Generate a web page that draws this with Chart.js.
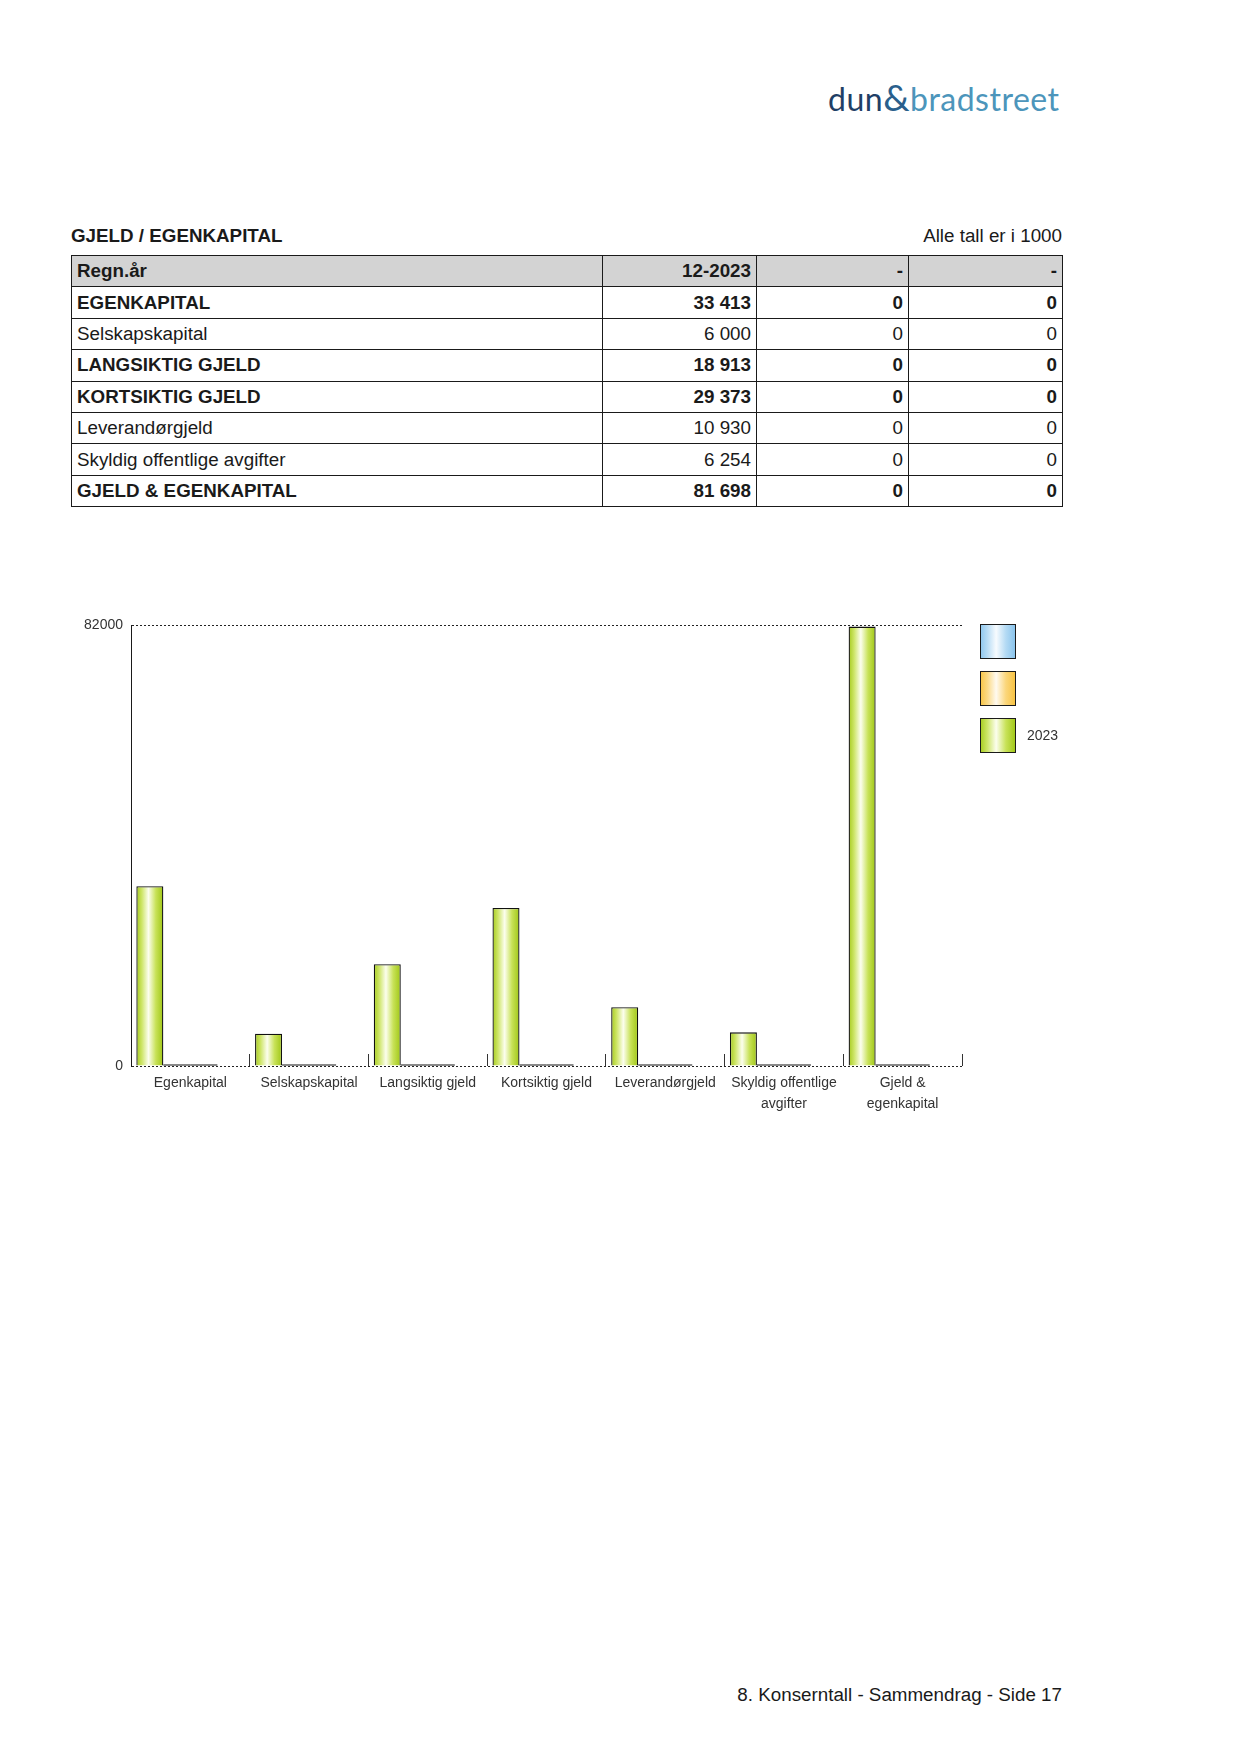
<!DOCTYPE html>
<html lang="no">
<head>
<meta charset="utf-8">
<title>Gjeld / Egenkapital</title>
<script src="https://cdn.jsdelivr.net/npm/chart.js@4.4.0/dist/chart.umd.min.js"></script>
<style>
  html, body { margin: 0; padding: 0; background: #fff; }
  body { width: 1241px; height: 1754px; position: relative; font-family: "Liberation Sans", Arial, sans-serif; color: #1a1a1a; }
  .logo { position: absolute; left: 828px; top: 77px; font-family: Lato, "Open Sans", sans-serif; font-size: 32px; letter-spacing: 0.5px; line-height: 40px; white-space: nowrap; }
  .logo .dun { color: #1f3f66; }
  .logo .amp { color: #2a5f8c; font-size: 37px; }
  .logo .brad { color: #4c95bb; }
  .title { position: absolute; left: 71px; top: 225px; font-size: 18.8px; font-weight: bold; }
  .unit { position: absolute; right: 179px; top: 225px; font-size: 18.8px; }
  table { position: absolute; left: 71px; top: 255px; border-collapse: collapse; font-size: 18.8px; }
  td { border: 1px solid #1a1a1a; height: 31.4px; padding: 0 5px; box-sizing: border-box; white-space: nowrap; }
  td.num { text-align: right; }
  tr.head td { background: #d3d3d3; font-weight: bold; }
  tr.bold td { font-weight: bold; }
  .chart-box { position: absolute; left: 60px; top: 590px; width: 1060px; height: 540px; }
  .footer { position: absolute; right: 179px; top: 1684px; font-size: 18.8px; }
</style>
</head>
<body>
<div class="logo"><span class="dun">dun</span><span class="amp">&amp;</span><span class="brad">bradstreet</span></div>
<div class="title">GJELD / EGENKAPITAL</div>
<div class="unit">Alle tall er i 1000</div>
<table id="tbl"></table>
<div class="chart-box"><canvas id="balanceChart"></canvas></div>
<div class="footer">8. Konserntall - Sammendrag - Side 17</div>

<script>
// table contents
const tableHeader = ['Regn.år', '12-2023', '-', '-'];
const tableRows = ['EGENKAPITAL', 'Selskapskapital', 'LANGSIKTIG GJELD', 'KORTSIKTIG GJELD',
  'Leverandørgjeld', 'Skyldig offentlige avgifter', 'GJELD & EGENKAPITAL'];
const tableBold = [true, false, true, true, false, false, true];
const tableYear = ['33 413', '6 000', '18 913', '29 373', '10 930', '6 254', '81 698'];
const tableCol2 = ['0', '0', '0', '0', '0', '0', '0'];
const tableCol3 = ['0', '0', '0', '0', '0', '0', '0'];

// chart data
const categories = ['Egenkapital', 'Selskapskapital', 'Langsiktig gjeld', 'Kortsiktig gjeld',
  'Leverandørgjeld', ['Skyldig offentlige', 'avgifter'], ['Gjeld &', 'egenkapital']];
const values2023 = [33413, 6000, 18913, 29373, 10930, 6254, 81698];
const valuesOrange = [0, 0, 0, 0, 0, 0, 0];
const valuesBlue = [0, 0, 0, 0, 0, 0, 0];
const yTicks = [0, 82000];

const colWidths = [531, 154, 152, 154];

function buildTable() {
  const tbl = document.getElementById('tbl');
  let html = '<tr class="head">' + tableHeader.map((h, i) =>
    `<td class="${i ? 'num' : ''}" style="width:${colWidths[i]}px">${h}</td>`).join('') + '</tr>';
  tableRows.forEach((name, i) => {
    html += `<tr class="${tableBold[i] ? 'bold' : ''}"><td>${name.replace('&', '&amp;')}</td>` +
      `<td class="num">${tableYear[i]}</td><td class="num">${tableCol2[i]}</td><td class="num">${tableCol3[i]}</td></tr>`;
  });
  tbl.innerHTML = html;
}
buildTable();

const greenStops = ['#a6cb1c', '#cde566', '#fcfeee', '#c8e258', '#9fc614'];
const orangeStops = ['#f8c442', '#fbd983', '#fffaf0', '#fbd67a', '#f7c13d'];
const blueStops = ['#8cc6ee', '#b7dcf5', '#f7fbfe', '#b3daf4', '#86c2ec'];
const CAT_PCT = 0.91;
const FONT = '"Liberation Sans", Arial, sans-serif';

function makeGradient(ctx, x0, x1, stops) {
  const g = ctx.createLinearGradient(x0, 0, x1, 0);
  const pos = [0, 0.2, 0.45, 0.72, 1];
  stops.forEach((c, i) => g.addColorStop(pos[i], c));
  return g;
}

function barGradient(context) {
  const chart = context.chart;
  const x = chart.scales.x;
  if (!chart.chartArea || !x || context.dataIndex === undefined) return greenStops[0];
  const catW = x.width / categories.length;
  const groupW = catW * CAT_PCT;
  const barW = groupW / chart.data.datasets.length;
  const left = x.getPixelForValue(context.dataIndex) - groupW / 2 + context.datasetIndex * barW;
  return makeGradient(chart.ctx, left, left + barW, greenStops);
}

const legendBoxes = {
  id: 'legendBoxes',
  afterDraw(chart) {
    const { ctx, chartArea } = chart;
    const items = chart.data.datasets.filter((d) => d.stops).slice().reverse();
    items.forEach((ds, i) => {
      const x = chartArea.right + 18;
      const y = chartArea.top - 1 + i * 47;
      ctx.save();
      ctx.fillStyle = makeGradient(ctx, x, x + 36, ds.stops);
      ctx.fillRect(x, y, 36, 35);
      ctx.strokeStyle = '#1a1a1a';
      ctx.lineWidth = 1;
      ctx.strokeRect(x + 0.5, y + 0.5, 35, 34);
      if (ds.label) {
        ctx.fillStyle = '#333';
        ctx.font = '14px ' + FONT;
        ctx.textBaseline = 'middle';
        ctx.fillText(ds.label, x + 47, y + 18);
      }
      ctx.restore();
    });
  },
};

new Chart(document.getElementById('balanceChart'), {
  type: 'bar',
  data: {
    labels: categories,
    datasets: [
      {
        label: '2023',
        data: values2023,
        stops: greenStops,
        backgroundColor: barGradient,
        borderColor: '#111',
        borderWidth: 1.3,
      },
      {
        label: '',
        data: valuesOrange,
        stops: orangeStops,
        backgroundColor: '#111',
        borderWidth: 0,
        minBarLength: 1.5,
      },
      {
        label: '',
        data: valuesBlue,
        stops: blueStops,
        backgroundColor: '#111',
        borderWidth: 0,
        minBarLength: 1.5,
      },
      {
        // empty slot that keeps the group shifted left like the original
        label: 'spacer',
        data: valuesBlue,
        backgroundColor: 'rgba(0,0,0,0)',
        borderWidth: 0,
      },
    ],
  },
  options: {
    responsive: true,
    maintainAspectRatio: false,
    animation: false,
    categoryPercentage: CAT_PCT,
    barPercentage: 1,
    layout: { padding: { left: 24, right: 158, top: 35, bottom: 4 } },
    plugins: {
      legend: { display: false },
      tooltip: { enabled: false },
    },
    scales: {
      x: {
        grid: {
          display: true,
          drawOnChartArea: false,
          drawTicks: true,
          tickLength: -12,
          color: '#333',
          lineWidth: 1,
        },
        border: { display: false },
        ticks: {
          color: '#333',
          font: { family: FONT, size: 14, lineHeight: '21px' },
          padding: 19,
          maxRotation: 0,
          autoSkip: false,
        },
        afterFit(scale) { scale.height = 60; },
      },
      y: {
        min: yTicks[0],
        max: yTicks[yTicks.length - 1],
        afterBuildTicks(scale) { scale.ticks = yTicks.map((v) => ({ value: v })); },
        grid: {
          drawTicks: false,
          color: '#222',
          lineWidth: 1,
        },
        border: { display: true, color: '#1a1a1a', width: 1, dash: [2, 2] },
        ticks: {
          color: '#333',
          padding: 8,
          font: { family: FONT, size: 14 },
          callback: (v) => String(v),
        },
        afterFit(scale) { scale.width = 47; },
      },
    },
  },
  plugins: [legendBoxes],
});
</script>
</body>
</html>
